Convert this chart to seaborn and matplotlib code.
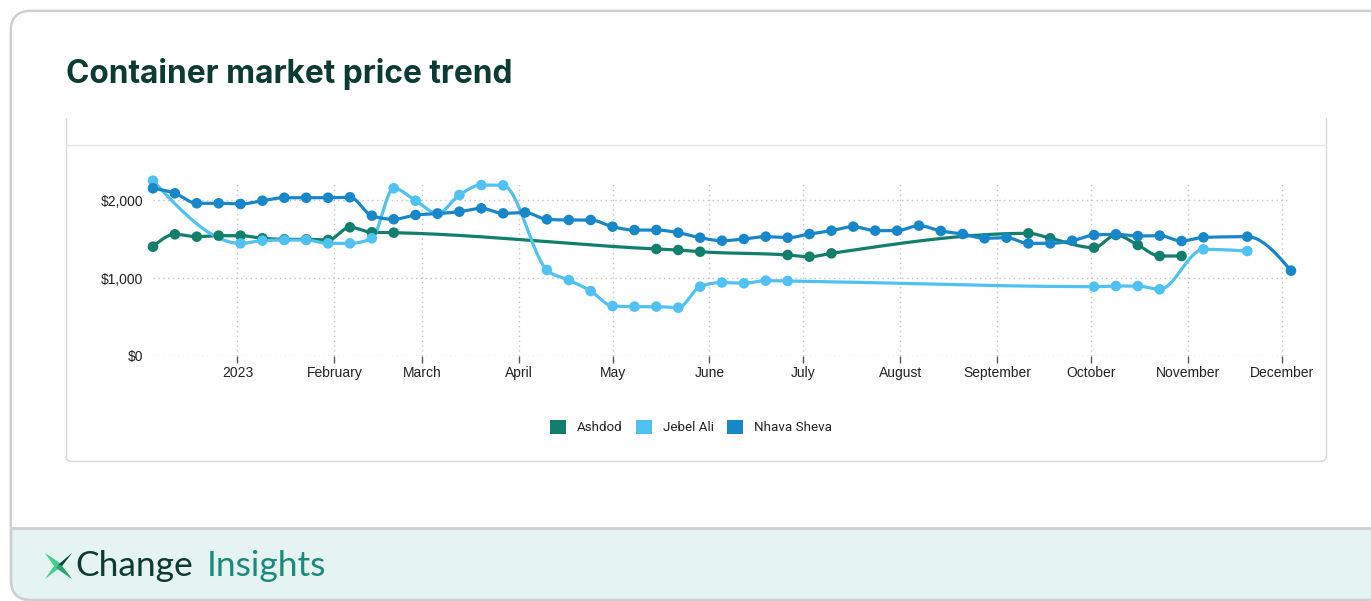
import numpy as np
import pandas as pd
import matplotlib
matplotlib.use("Agg")
import matplotlib.pyplot as plt
import matplotlib.dates as mdates
from matplotlib.patches import FancyBboxPatch, Rectangle, Polygon, Patch
import seaborn as sns

# ---- data: weekly container prices (USD), week starting Mondays ----
week_start = "2022-12-05"
n_weeks = 53
nan = np.nan

ashdod = [1401, 1560, 1530, 1543, 1543, 1509, 1496, 1496, 1487, 1650,
          1586, 1581, nan, nan, nan, nan, nan, nan, nan, nan,
          nan, nan, nan, 1372, 1359, 1337, nan, nan, nan, 1295,
          1273, 1316, nan, nan, nan, nan, nan, nan, nan, nan,
          1573, 1509, nan, 1389, 1551, 1423, 1282, 1282, nan, nan,
          nan, nan, nan]

jebel_ali = [2248, nan, nan, nan, 1444, 1479, 1487, 1487, 1444, 1444,
             1509, 2150, 1991, 1829, 2064, 2192, 2188, nan, 1103, 974,
             833, 641, 633, 633, 620, 889, 942, 932, 966, 962,
             nan, nan, nan, nan, nan, nan, nan, nan, nan, nan,
             nan, nan, nan, 889, 897, 897, 855, nan, 1368, nan,
             1346, nan, nan]

nhava_sheva = [2150, 2086, 1958, 1958, 1949, 1991, 2029, 2029, 2029, 2035,
               1799, 1753, 1808, 1825, 1850, 1893, 1829, 1840, 1752, 1744,
               1744, 1658, 1615, 1615, 1581, 1517, 1478, 1500, 1530, 1517,
               1564, 1607, 1658, 1607, 1607, 1671, 1603, 1564, 1509, 1517,
               1444, 1444, 1478, 1551, 1560, 1538, 1543, 1474, 1521, nan,
               1530, nan, 1094]

ports = ["Ashdod", "Jebel Ali", "Nhava Sheva"]
series = {"Ashdod": ashdod, "Jebel Ali": jebel_ali, "Nhava Sheva": nhava_sheva}
colors = {"Ashdod": "#127e6c", "Jebel Ali": "#4fc1f3", "Nhava Sheva": "#1787c9"}

month_ticks = ["2023-01-01", "2023-02-01", "2023-03-01", "2023-04-01",
               "2023-05-01", "2023-06-01", "2023-07-01", "2023-08-01",
               "2023-09-01", "2023-10-01", "2023-11-01", "2023-12-01"]
month_labels = ["2023", "February", "March", "April", "May", "June", "July",
                "August", "September", "October", "November", "December"]
y_ticks = [0, 1000, 2000]
y_labels = ["$0", "$1,000", "$2,000"]

dates = pd.date_range(week_start, periods=n_weeks, freq="7D")


def monotone_curve(x, y, steps=24):
    """Monotone cubic (Fritsch-Carlson / monotoneX) through the points."""
    x = np.asarray(x, float)
    y = np.asarray(y, float)
    n = len(x)
    if n < 3:
        return x, y
    h = np.diff(x)
    s = np.diff(y) / h
    t = np.zeros(n)
    for i in range(1, n - 1):
        s0, s1 = s[i - 1], s[i]
        if s0 * s1 <= 0:
            t[i] = 0.0
        else:
            p = (s0 * h[i] + s1 * h[i - 1]) / (h[i - 1] + h[i])
            t[i] = (np.sign(s0) + np.sign(s1)) * min(abs(s0), abs(s1), 0.5 * abs(p))
    t[0] = (3 * s[0] - t[1]) / 2
    t[-1] = (3 * s[-1] - t[-2]) / 2
    xs, ys = [], []
    for i in range(n - 1):
        u = np.linspace(0, 1, steps, endpoint=(i == n - 2))
        h00 = 2 * u**3 - 3 * u**2 + 1
        h10 = u**3 - 2 * u**2 + u
        h01 = -2 * u**3 + 3 * u**2
        h11 = u**3 - u**2
        xs.append(x[i] + u * h[i])
        ys.append(h00 * y[i] + h10 * h[i] * t[i] + h01 * y[i + 1] + h11 * h[i] * t[i + 1])
    return np.concatenate(xs), np.concatenate(ys)


# long tables for the markers and the smoothed lines
pts, curves = [], []
for port in ports:
    vals = np.asarray(series[port], float)
    ok = ~np.isnan(vals)
    d = dates[ok]
    v = vals[ok]
    pts.append(pd.DataFrame({"date": d, "price": v, "port": port}))
    xn = mdates.date2num(d)
    cx, cy = monotone_curve(xn, v)
    curves.append(pd.DataFrame({"date": mdates.num2date(cx), "price": cy, "port": port}))
pts = pd.concat(pts, ignore_index=True)
curves = pd.concat(curves, ignore_index=True)
curves["date"] = pd.to_datetime(curves["date"]).dt.tz_localize(None)

# ---- figure ----
W, H = 1371, 601
sns.set_theme(style="white")
plt.rcParams["font.family"] = ["Liberation Sans", "DejaVu Sans"]
fig = plt.figure(figsize=(W / 100, H / 100), dpi=100)
fig.patch.set_facecolor("white")

# page furniture in pixel coordinates
bg = fig.add_axes([0, 0, 1, 1], zorder=-5)
bg.set_xlim(0, W)
bg.set_ylim(H, 0)
bg.axis("off")

card = FancyBboxPatch((11, 11), W + 60, H - 12, boxstyle="round,pad=0,rounding_size=20",
                      facecolor="#e5f4f2", edgecolor="#cfcfcf", linewidth=2)
bg.add_patch(card)
bg.add_patch(FancyBboxPatch((12, 12), W + 60, 515, boxstyle="round,pad=0,rounding_size=19",
                            facecolor="white", edgecolor="none"))
bg.add_patch(Rectangle((12, 470), W + 60, 57, facecolor="white", edgecolor="none"))
bg.plot([11, W], [528, 528], color="#cfcfcf", lw=2, solid_capstyle="butt")

# chart frame
frame_c = "#d9d9d9"
bg.plot([66, 66], [118, 457], color=frame_c, lw=1)
bg.plot([1326, 1326], [118, 457], color=frame_c, lw=1)
bg.plot([70, 1322], [461, 461], color=frame_c, lw=1)
bg.plot([66, 66.6, 68, 70], [457, 459.4, 460.6, 461], color=frame_c, lw=1)
bg.plot([1322, 1324, 1325.4, 1326], [461, 460.6, 459.4, 457], color=frame_c, lw=1)
bg.plot([66, 1326], [145, 145], color="#e3e3e3", lw=1)

# logo mark
bg.add_patch(Polygon([[45, 553], [60, 563], [72, 553], [62, 566], [72, 579], [58, 569], [45, 579], [54, 566]],
                     closed=True, facecolor="#44cf8c", edgecolor="none"))
bg.add_patch(Polygon([[72, 553], [58, 565], [62, 566]], closed=True, facecolor="#0c4a3c", edgecolor="none"))
bg.add_patch(Polygon([[58, 565], [62, 566], [72, 579], [56, 568]], closed=True, facecolor="#2aa572", edgecolor="none"))

fig.text(66 / W, 1 - 74 / H, "Container market price trend", fontsize=22.8, fontweight="bold",
         family=["Inter", "DejaVu Sans"], color="#0c3b33", va="center", ha="left")
fig.text(75 / W, 1 - 566 / H, "Change", fontsize=25.5, family=["Lato", "DejaVu Sans"],
         color="#0d3b33", va="center", ha="left")
fig.text(207 / W, 1 - 566 / H, "Insights", fontsize=25.5, family=["Lato", "DejaVu Sans"],
         color="#1b8a7b", va="center", ha="left")

# ---- plot area ----
left, right, top, bottom = 153, 1291, 183, 356
ax = fig.add_axes([left / W, 1 - bottom / H, (right - left) / W, (bottom - top) / H])
ax.set_facecolor("none")

sns.lineplot(data=curves, x="date", y="price", hue="port", palette=colors, hue_order=ports,
             sort=False, estimator=None, linewidth=2.3, legend=False, ax=ax, clip_on=False, zorder=3)
sns.scatterplot(data=pts, x="date", y="price", hue="port", palette=colors, hue_order=ports,
                s=58, edgecolor="none", legend=False, ax=ax, clip_on=False, zorder=4)

ax.set_xlim(dates[0], dates[-1])
ax.set_ylim(0, 2218)
ax.set_xticks(pd.to_datetime(month_ticks))
ax.set_xticklabels(month_labels)
ax.set_yticks(y_ticks)
ax.set_yticklabels(y_labels)
ax.set_xlabel("")
ax.set_ylabel("")
for sp in ax.spines.values():
    sp.set_visible(False)
ax.grid(True, color="#c4c4c4", linestyle=(0, (1, 2.5)), linewidth=1)
ax.tick_params(axis="x", which="both", bottom=True, length=5, width=1, color="#555555",
               labelsize=10, labelcolor="#222222", pad=2.5, direction="out")
ax.tick_params(axis="y", length=0, labelsize=10, labelcolor="#222222", pad=7)

# legend
handles = [Patch(facecolor=colors[p], edgecolor="none", label=p) for p in ports]
leg = fig.legend(handles=handles, loc="center", bbox_to_anchor=(691 / W, 1 - 427 / H), ncol=3,
                 frameon=False, prop={"family": ["Roboto", "DejaVu Sans"], "size": 9.6},
                 handlelength=1.2, handleheight=1.2, handletextpad=0.8, columnspacing=1.0)
for t in leg.get_texts():
    t.set_color("#222222")

fig.savefig("out.png", dpi=100)
